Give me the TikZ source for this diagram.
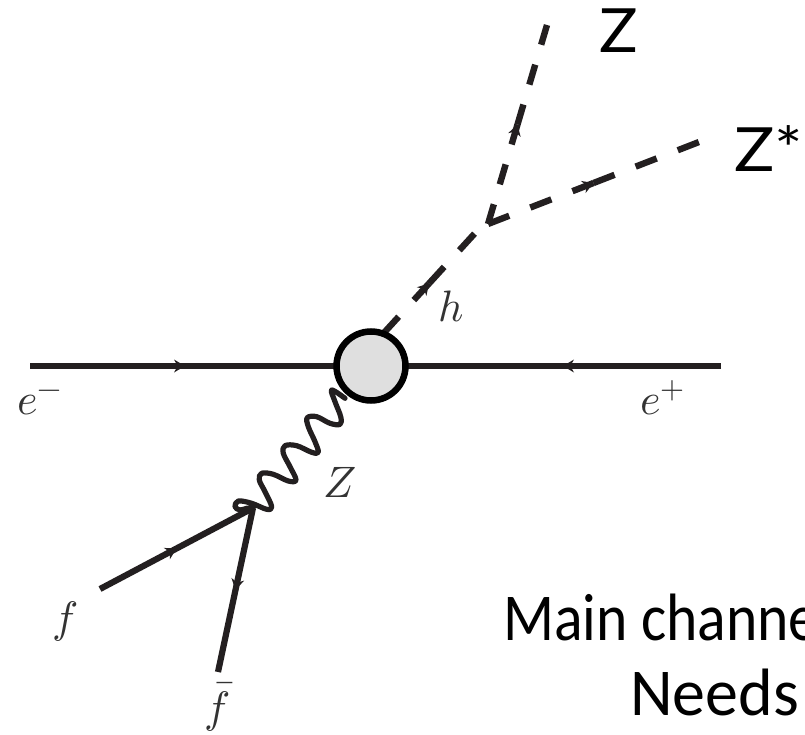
\documentclass[tikz,border=0pt]{standalone}
\usepackage{fontspec}
\setmainfont{Carlito}
\newfontfamily\zfont{Lato}
\usepackage{unicode-math}
\setmathfont{Latin Modern Math}
\usetikzlibrary{arrows.meta,decorations.markings,calc}
\definecolor{ink}{HTML}{231F20}
\definecolor{lab}{HTML}{333333}
\definecolor{blobgray}{HTML}{DFDFDF}
\tikzset{
  x=1pt,y=-1pt,
  fermion/.style={draw=ink,line width=6.2pt},
  scalar/.style={draw=ink,line width=6.4pt},
  midarrow/.style={decoration={markings,mark=at position 0.5 with {\arrow[ink,line width=0pt]{Stealth[length=11pt,width=13pt]}}},postaction={decorate}},
  photon/.style={draw=ink,line width=5.2pt,line cap=round,line join=round},
  blobnode/.style={circle,draw=black,fill=blobgray,line width=6.5pt,minimum size=69pt,inner sep=0pt},
  mathlab/.style={text=lab,anchor=base west,inner sep=0pt,font=\fontsize{44}{44}\selectfont},
  biglab/.style={text=black,anchor=base west,inner sep=0pt,font=\fontsize{67}{67}\selectfont},
  zlab/.style={text=black,anchor=base west,inner sep=0pt,font=\zfont\fontsize{61}{61}\selectfont}
}
\begin{document}
\begin{tikzpicture}
\useasboundingbox (0,0) rectangle (805,735);
\clip (0,0) rectangle (805,735);
\coordinate (em) at (30,366);
\coordinate (ep) at (721,366);
\coordinate (bc) at (371,366);
\coordinate (hs) at (371,347);
\coordinate (vh) at (487,220);
\coordinate (vz) at (488,224);
\coordinate (zend) at (547,25);
\coordinate (send) at (699,142);
\coordinate (fv) at (253,508);
\coordinate (fin) at (100,589);
\coordinate (fbar) at (218,672);
% fermion lines
\draw[fermion] (em) -- (bc);
\draw[fermion] (ep) -- (bc);
\path[midarrow] (175,366) -- (195,366);
\path[midarrow] (573,366) -- (553,366);
\draw[fermion,midarrow] (fin) -- (fv);
\draw[fermion,midarrow] (fv) -- (fbar);
% photon
\draw[photon] plot[smooth,tension=0.6] coordinates {(345,398.3) (331.7,390) (335,401.7) (340.7,416.7) (340,424.3) (330,423.3) (316.7,416.7) (307.3,417.7) (308.3,426.7) (315,441.7) (318.3,452.3) (311.7,452.3) (296.7,445.7) (285,445.7) (283.3,453.3) (290,466.7) (296,480) (288.3,481) (273.3,474.3) (261.7,473.3) (259.3,480) (265,491.7) (271.7,506.7) (266.7,509.3) (251.7,503.3) (238.3,501) (235,506.7) (240,510) (246.7,508.3) (253,508)};
% scalar lines, each dashed outward from its middle
\coordinate (mh) at ($(hs)!0.5!(vh)$);
\coordinate (mz) at ($(vz)!0.5!(zend)$);
\coordinate (ms) at ($(vz)!0.5!(send)$);
\draw[scalar,dash pattern=on 22.5pt off 22.5pt] (mh) -- (hs);
\draw[scalar,dash pattern=on 22.5pt off 22.5pt] (mh) -- (vh);
\draw[scalar,dash pattern=on 20.8pt off 20.8pt] (mz) -- (vz);
\draw[scalar,dash pattern=on 20.8pt off 20.8pt] (mz) -- (zend);
\draw[scalar,dash pattern=on 22.6pt off 22.6pt] (ms) -- (vz);
\draw[scalar,dash pattern=on 22.6pt off 22.6pt] (ms) -- (send);
\path[midarrow] ($(mh)!10pt!(hs)$) -- ($(mh)!10pt!(vh)$);
\path[midarrow] ($(mz)!10pt!(vz)$) -- ($(mz)!10pt!(zend)$);
\path[midarrow] ($(ms)!10pt!(vz)$) -- ($(ms)!10pt!(send)$);
\node[blobnode] (blob) at (bc) {};
% labels
\node[mathlab] (le) at (17,414) {$e^-$};
\node[mathlab] (lp) at (640,414) {$e^+$};
\node[mathlab] (lh) at (438,321) {$h$};
\node[mathlab] (lz) at (323,497) {$Z$};
\node[mathlab] (lf) at (52,632) {$f$};
\node[mathlab] (lb) at (204,722) {$\bar f$};
\node[zlab] (tz) at (599,53) {\scalebox{1.05}[1]{Z}};
\node[zlab] (ts) at (734,172) {\scalebox{1.1}[1]{Z*}};
\node[biglab] (tm) at (503,640) {\scalebox{0.89}[1]{Main channe}};
\node[biglab] (tn) at (630,715) {\scalebox{0.985}[1]{Needs}};
\end{tikzpicture}
\end{document}
